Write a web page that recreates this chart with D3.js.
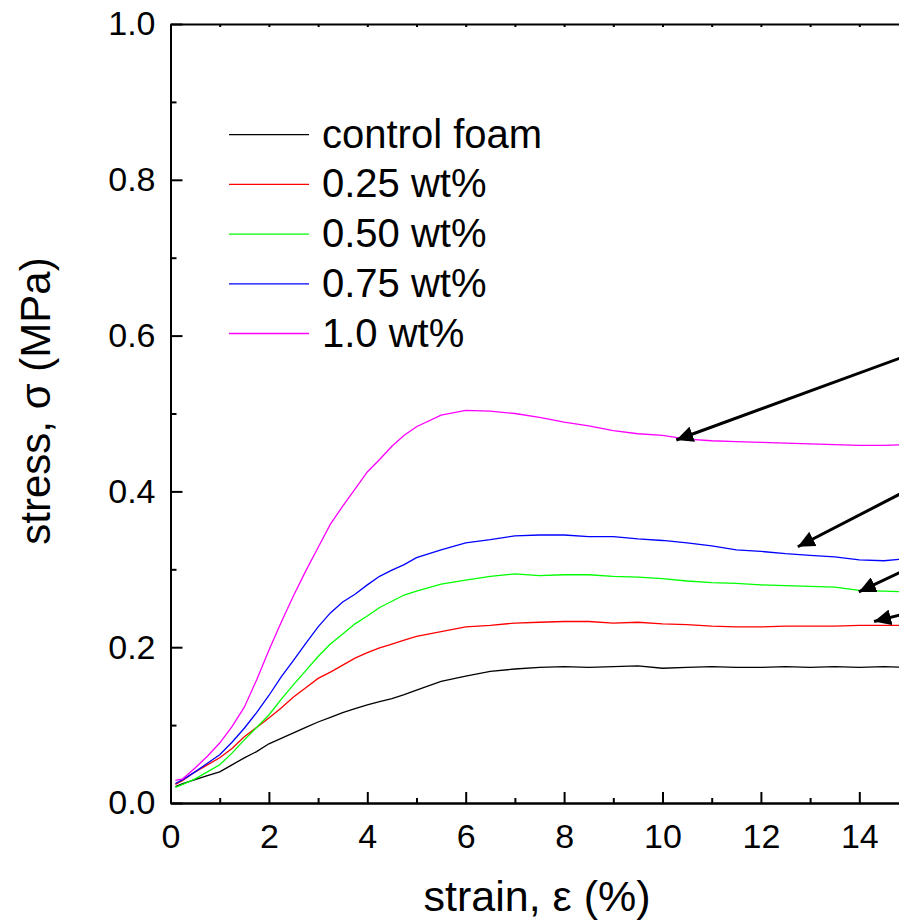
<!DOCTYPE html>
<html>
<head>
<meta charset="utf-8">
<script src="https://cdn.jsdelivr.net/npm/d3@7"></script>
<style>
  body { margin: 0; background: #fff; }
  text { font-family: "Liberation Sans", Arial, sans-serif; fill: #000; }
</style>
</head>
<body>
<svg id="chart" width="899" height="922"></svg>
<script>
// strain grid (%) shared by all curves
const strain = [0.1, 0.25, 0.5, 0.75, 1.0, 1.25, 1.5, 1.75, 2.0, 2.25, 2.5, 2.75, 3.0, 3.25, 3.5, 3.75,
  4.0, 4.25, 4.5, 4.75, 5.0, 5.5, 6.0, 6.5, 7.0, 7.5, 8.0, 8.5, 9.0, 9.5, 10.0, 10.5, 11.0, 11.5,
  12.0, 12.5, 13.0, 13.5, 14.0, 14.5, 15.0];

// stress (MPa)
const controlFoam = [0.021, 0.025, 0.030, 0.035, 0.040, 0.049, 0.058, 0.066, 0.076, 0.083, 0.090, 0.097,
  0.104, 0.110, 0.116, 0.121, 0.126, 0.130, 0.134, 0.139, 0.145, 0.156, 0.163, 0.169, 0.172, 0.174,
  0.175, 0.174, 0.175, 0.176, 0.173, 0.174, 0.175, 0.174, 0.174, 0.175, 0.174, 0.175, 0.174, 0.175, 0.174];
const wt025 = [0.024, 0.029, 0.040, 0.049, 0.058, 0.070, 0.085, 0.097, 0.109, 0.122, 0.136, 0.148,
  0.160, 0.168, 0.177, 0.186, 0.193, 0.199, 0.204, 0.209, 0.214, 0.220, 0.226, 0.228, 0.231, 0.232,
  0.233, 0.233, 0.231, 0.232, 0.230, 0.229, 0.227, 0.226, 0.226, 0.227, 0.227, 0.227, 0.228, 0.228, 0.228];
const wt050 = [0.020, 0.024, 0.031, 0.040, 0.049, 0.064, 0.081, 0.097, 0.113, 0.133, 0.152, 0.170,
  0.188, 0.204, 0.217, 0.230, 0.240, 0.251, 0.259, 0.267, 0.272, 0.281, 0.286, 0.291, 0.294, 0.292,
  0.293, 0.293, 0.291, 0.290, 0.288, 0.285, 0.283, 0.282, 0.280, 0.279, 0.278, 0.277, 0.273, 0.272, 0.271];
const wt075 = [0.025, 0.030, 0.040, 0.051, 0.062, 0.078, 0.096, 0.116, 0.138, 0.162, 0.183, 0.205,
  0.226, 0.244, 0.258, 0.268, 0.280, 0.291, 0.299, 0.306, 0.315, 0.325, 0.334, 0.338, 0.343, 0.344,
  0.344, 0.342, 0.342, 0.339, 0.337, 0.334, 0.330, 0.325, 0.323, 0.320, 0.318, 0.316, 0.312, 0.311, 0.314];
const wt100 = [0.029, 0.031, 0.045, 0.060, 0.077, 0.098, 0.123, 0.158, 0.196, 0.232, 0.266, 0.298,
  0.328, 0.358, 0.381, 0.403, 0.425, 0.441, 0.458, 0.472, 0.483, 0.498, 0.504, 0.503, 0.500, 0.495,
  0.489, 0.484, 0.478, 0.474, 0.472, 0.467, 0.465, 0.464, 0.463, 0.462, 0.461, 0.460, 0.459, 0.459, 0.460];

const seriesNames = ["control foam", "0.25 wt%", "0.50 wt%", "0.75 wt%", "1.0 wt%"];
const seriesValues = [controlFoam, wt025, wt050, wt075, wt100];
const seriesColors = ["#000000", "#ff0000", "#00ff00", "#0000ff", "#ff00ff"];

const xMajor = [0, 2, 4, 6, 8, 10, 12, 14];
const xMinor = [1, 3, 5, 7, 9, 11, 13, 15];
const yMajor = [0, 0.2, 0.4, 0.6, 0.8, 1.0];
const yMinor = [0.1, 0.3, 0.5, 0.7, 0.9];

// arrows: [tip strain, tip stress, tail strain, tail stress]
const arrows = [
  [10.28, 0.466, 15.3, 0.582],
  [12.75, 0.329, 15.3, 0.412],
  [13.99, 0.271, 15.3, 0.310],
  [14.30, 0.233, 15.3, 0.249]
];

const svg = d3.select("#chart");

const x = d3.scaleLinear().domain([0, 15]).range([170.5, 908.5]);
const y = d3.scaleLinear().domain([0, 1]).range([803, 24]);

// curves
const line = d3.line()
  .x(function (d) { return x(d[0]); })
  .y(function (d) { return y(d[1]); });

seriesValues.forEach(function (vals, i) {
  const pts = strain.map(function (s, j) { return [s, vals[j]]; });
  svg.append("path")
    .datum(pts)
    .attr("fill", "none")
    .attr("stroke", seriesColors[i])
    .attr("stroke-width", 1.3)
    .attr("d", line);
});

// axes
function styleAxis(g) {
  g.selectAll("path, line").attr("stroke", "#000").attr("stroke-width", 2);
  g.selectAll("text").style("font-family", '"Liberation Sans", Arial, sans-serif').attr("fill", "#000");
}

svg.append("g")
  .attr("transform", "translate(0," + y(0) + ")")
  .call(d3.axisBottom(x).tickValues(xMinor).tickSizeInner(-5).tickSizeOuter(0).tickFormat(""))
  .call(styleAxis);

svg.append("g")
  .attr("transform", "translate(0," + y(0) + ")")
  .call(d3.axisBottom(x).tickValues(xMajor).tickSizeInner(-11).tickSizeOuter(0).tickPadding(21)
    .tickFormat(d3.format("d")))
  .call(styleAxis)
  .selectAll("text").style("font-size", "34px");

svg.append("g")
  .attr("transform", "translate(" + x(0) + ",0)")
  .call(d3.axisLeft(y).tickValues(yMinor).tickSizeInner(-6).tickSizeOuter(0).tickFormat(""))
  .call(styleAxis);

svg.append("g")
  .attr("transform", "translate(" + x(0) + ",0)")
  .call(d3.axisLeft(y).tickValues(yMajor).tickSizeInner(-12).tickSizeOuter(0).tickPadding(15)
    .tickFormat(d3.format(".1f")))
  .call(styleAxis)
  .selectAll("text").style("font-size", "34px");

// top frame with small ticks
svg.append("g")
  .attr("transform", "translate(0," + y(1) + ")")
  .call(d3.axisTop(x).tickValues(d3.range(1, 16)).tickSizeInner(-3).tickSizeOuter(0).tickFormat(""))
  .call(styleAxis);

// axis titles
svg.append("text")
  .attr("x", 537)
  .attr("y", 911)
  .attr("text-anchor", "middle")
  .style("font-size", "43px")
  .text("strain, \u03b5 (%)");

svg.append("text")
  .attr("transform", "translate(50,401) rotate(-90)")
  .attr("text-anchor", "middle")
  .style("font-size", "42px")
  .text("stress, \u03c3 (MPa)");

// legend
const legend = svg.append("g").attr("transform", "translate(229,134.7)");
seriesNames.forEach(function (name, i) {
  const row = legend.append("g").attr("transform", "translate(0," + i * 49.7 + ")");
  row.append("line")
    .attr("x1", 0).attr("x2", 80)
    .attr("y1", 0).attr("y2", 0)
    .attr("stroke", seriesColors[i])
    .attr("stroke-width", 1.3);
  row.append("text")
    .attr("x", 93)
    .attr("y", 13)
    .style("font-size", "40px")
    .text(name);
});

// arrows
svg.append("defs").append("marker")
  .attr("id", "head")
  .attr("markerUnits", "userSpaceOnUse")
  .attr("markerWidth", 20)
  .attr("markerHeight", 16)
  .attr("refX", 17)
  .attr("refY", 8)
  .attr("orient", "auto")
  .append("path")
  .attr("d", "M0,0 L17,8 L0,16 Z")
  .attr("fill", "#000");

svg.selectAll(".arrow")
  .data(arrows)
  .enter()
  .append("line")
  .attr("class", "arrow")
  .attr("x1", function (d) { return x(d[2]); })
  .attr("y1", function (d) { return y(d[3]); })
  .attr("x2", function (d) { return x(d[0]); })
  .attr("y2", function (d) { return y(d[1]); })
  .attr("stroke", "#000")
  .attr("stroke-width", 3)
  .attr("marker-end", "url(#head)");
</script>
</body>
</html>
